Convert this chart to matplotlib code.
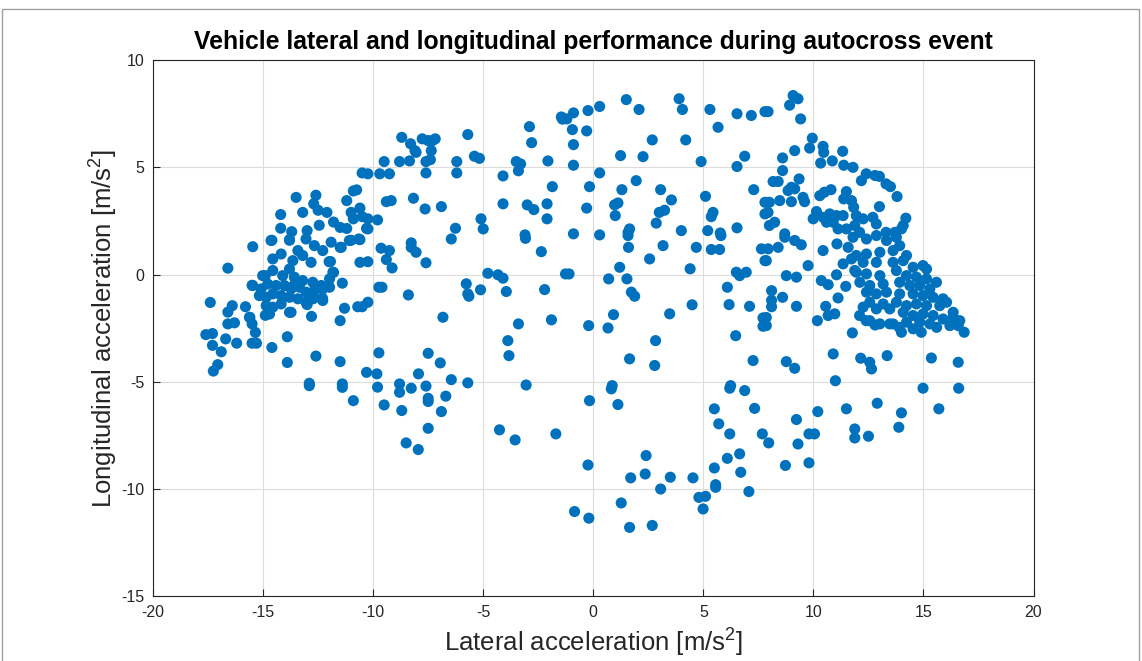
import matplotlib
matplotlib.use("Agg")
import matplotlib.pyplot as plt
from matplotlib.patches import Rectangle

plt.rcParams['font.family'] = ['Liberation Sans', 'DejaVu Sans']
plt.rcParams['mathtext.fontset'] = 'custom'
plt.rcParams['mathtext.rm'] = 'Liberation Sans'
plt.rcParams['mathtext.it'] = 'Liberation Sans'
plt.rcParams['axes.unicode_minus'] = False

# lateral (x) / longitudinal (y) acceleration
left_x = [-17.6, -17.3, -17.4, -17.3, -17.26, -17.06, -16.9, -16.7, -16.6, -16.6, -16.6, -16.4,
          -16.3, -16.2, -15.8, -15.6, -15.5, -15.35, -15.5, -15.3, -15.47, -14.6, -13.9, -13.9,
          -12.6, -11.5, -12.9, -11.4, -14.9, -13.8, -12.8, -11.5, -11.3, -10.7, -10.5, -11.4,
          -10.6, -11.0, -10.6, -11.5, -12.0, -11.8, -12.3, -12.7, -13.0, -13.6, -14.9, -15.5,
          -14.6, -13.8]
left_y = [-2.8, -2.75, -1.3, -3.3, -4.5, -4.2, -3.6, -3.0, -2.3, -1.75, 0.3, -1.45,
          -2.25, -3.2, -1.5, -2.0, -2.3, -2.7, -3.2, -3.2, 1.3, -3.4, -2.9, -4.1,
          -3.8, -4.06, -5.07, -5.1, -1.9, -1.76, -1.95, -2.15, -1.57, -1.5, -1.5, -0.4,
          0.57, 1.6, 1.63, 1.27, 0.6, 0.1, -1.1, -1.1, -1.4, -0.5, -0.05, -0.5,
          1.6, 1.6]

dense_left_x = [-14.64, -13.8, -13.42, -13.05, -12.67, -12.29, -11.91, -11.45, -11.08, -10.65,
                -14.56, -14.18, -13.65, -13.2, -12.82, -11.94,
                -15.02, -14.56, -14.11, -13.8, -13.58, -13.2, -12.74, -12.36, -11.98, -11.83,
                -15.47, -15.09, -14.79, -14.41, -14.03, -13.73, -13.35, -13.05, -12.67, -12.29, -11.98,
                -15.17, -14.86, -14.56, -14.18, -13.8, -13.42, -13.05, -12.74, -12.29,
                -14.86, -14.56, -14.71, -14.18, -13.73, -15.62]
dense_left_y = [1.59, 1.63, 1.12, 1.66, 1.35, 1.12, 1.51, 1.27, 1.59, 1.66,
                0.73, 0.96, 0.65, 0.89, 0.57, 0.61,
                -0.05, 0.19, -0.05, 0.26, -0.12, -0.28, -0.36, -0.51, -0.2, 0.11,
                -0.51, -0.67, -0.44, -0.51, -0.51, -0.67, -0.59, -0.82, -0.75, -0.67, -0.59,
                -0.98, -1.06, -0.9, -0.98, -1.06, -1.13, -1.29, -1.13, -1.21,
                -1.45, -1.52, -1.84, -1.37, -1.76, -1.99]

upper_left_x = [-10.5, -10.9, -10.75, -11.2, -13.5, -12.6, -12.7, -12.5, -14.2, -13.2, -12.1,
                -14.2, -13.7, -13.0, -12.45, -11.8, -11.5, -11.0, -10.9, -10.6, -10.5, -10.3, -11.2]
upper_left_y = [4.74, 3.9, 3.95, 3.45, 3.6, 3.7, 3.3, 3.0, 2.8, 2.9, 2.9,
                2.16, 2.0, 2.05, 2.3, 2.45, 2.2, 2.9, 2.6, 3.1, 2.7, 2.15, 2.15]

mid_left_x = [-1.45, -1.4, -2.9, -2.8, -2.06, -1.86, -2.1, -2.1, -3.1, -4.1, -4.1, -3.5, -3.3,
              -3.4, -3.0, -2.7, -5.7, -5.4, -5.17, -6.2, -6.2, -5.1, -5.0, -6.26, -6.9, -7.64,
              -8.17, -9.4, -9.18, -9.8, -10.24, -10.24, -7.6, -7.6, -7.4, -7.36, -7.3, -7.77,
              -7.5, -7.18, -8.3, -8.1, -8.05, -8.7, -8.35, -8.8, -9.5, -9.7, -9.26, -10.24,
              -6.45, -8.27, -8.27, -8.05, -9.64, -9.26, -9.4, -9.14, -7.6, -10.24, -9.74, -9.6,
              -8.4, -10.24, -5.77, -5.7, -5.65, -5.12, -4.79, -4.33, -4.1, -3.95, -3.08, -2.36,
              -2.21, -1.9, -3.4, -3.88, -3.83, -6.83, -9.74, -7.5, -6.95, -7.94, -10.3, -9.83,
              -1.26]
mid_left_y = [7.35, 7.25, 6.9, 6.15, 5.3, 4.1, 3.3, 2.6, 1.85, 4.6, 3.3, 5.27, 5.16,
              4.84, 3.25, 3.03, 6.53, 5.52, 5.42, 5.27, 4.74, 2.6, 2.13, 2.16, 3.17, 3.06,
              3.56, 3.4, 3.45, 2.55, 2.6, 2.13, 4.74, 5.27, 5.36, 5.78, 6.25, 6.33,
              6.25, 6.33, 6.1, 5.78, 5.7, 6.4, 5.3, 5.27, 5.27, 4.7, 4.7, 4.7,
              1.66, 1.48, 1.27, 1.04, 1.23, 1.12, 0.7, 0.31, 0.55, 0.6, -0.59, -0.59,
              -0.95, -1.29, -0.43, -0.9, -1.01, -0.71, 0.06, -0.01, -0.17, -0.79, 1.69, 1.07,
              -0.7, -2.11, -2.3, -3.08, -3.78, -1.99, -3.65, -3.67, -4.12, -4.63, -4.56, -4.63,
              0.03]

low_left_x = [-12.9, -11.4, -9.8, -8.8, -8.8, -8.27, -7.6, -7.5, -7.5, -6.7, -6.45, -5.7, -3.05,
              -10.9, -9.5, -8.7, -6.9, -7.5, -8.5, -7.95, -4.26, -3.55, -1.7]
low_left_y = [-5.18, -5.26, -5.25, -5.1, -5.49, -5.3, -5.2, -5.77, -5.92, -5.67, -4.9, -5.05, -5.15,
              -5.88, -6.08, -6.34, -6.39, -7.17, -7.85, -8.16, -7.24, -7.71, -7.43]

top_mid_x = [1.5, 3.9, 4.05, 2.08, 0.29, -0.24, -0.9, -1.2, -0.95, -0.3, -0.9, -0.9, 1.24, 2.26,
             2.68, 4.2, 4.9, 5.3, 5.67, 6.53, 7.18, 7.8, 6.88, 6.53, 7.29, 0.29, -0.17, 1.95,
             1.3, 3.06, 3.55, 1.12, 0.97, 1.0, -0.3, 3.0, 3.24, 2.86, 1.65, 1.58, 4.0, 5.1,
             5.44, 5.36, 5.2, 5.77, 6.53, 7.8, 7.8, -0.9, 0.29]
top_mid_y = [8.16, 8.2, 7.7, 7.7, 7.84, 7.65, 7.54, 7.26, 6.76, 6.7, 6.06, 5.1, 5.55, 5.5,
             6.28, 6.28, 5.27, 7.7, 6.87, 7.5, 7.42, 7.6, 5.52, 5.04, 3.96, 4.74, 4.1, 4.38,
             3.96, 3.96, 3.48, 3.34, 3.25, 2.75, 3.1, 2.9, 3.0, 2.4, 2.13, 1.97, 2.05, 3.65,
             2.9, 2.7, 2.05, 1.94, 2.18, 3.37, 2.83, 1.9, 1.85]

center_x = [1.58, 1.6, 3.17, 4.68, 5.36, 5.74, 5.8, 7.64, 7.8, 2.56, 1.2, -1.1, 0.7, 1.53,
            1.73, 1.88, 4.4, 6.5, 6.65, 6.95, 6.09, 6.17, 7.1, 7.71, 7.71, 4.49, 3.47, 0.92,
            -0.21, 0.67, 2.83, 6.47, 7.26, 1.65, 2.79, 0.86, 6.24]
center_y = [1.82, 1.27, 1.35, 1.27, 1.17, 1.17, 1.82, 1.2, 0.65, 0.73, 0.34, 0.03, -0.2, -0.2,
            -0.82, -1.01, 0.27, 0.11, -0.05, 0.11, -0.59, -1.4, -1.48, -2.02, -2.41, -1.41, -1.83, -1.87,
            -2.38, -2.49, -3.08, -2.85, -4.01, -3.93, -4.24, -5.18, -5.18]

low_mid_x = [0.82, -0.17, 1.12, 6.2, 6.88, 5.5, 5.7, 6.2, 7.33, 7.68, 7.97, 9.23, 9.3, 9.8,
             10.05, 10.2, 11.5, 11.88, 11.88, 12.5, 12.9, 14.0, 13.88, 14.98, 16.6, 15.7, 11.0,
             9.8, 8.73, 6.65, 6.09, 5.5, 6.7, 7.07, 5.56, 5.56, 4.8, 5.1, 4.99, 4.53, 3.5,
             3.06, 2.36, 2.4, 1.7, 1.27, 2.68, 1.65, -0.24, -0.85, -0.2]
low_mid_y = [-5.33, -5.88, -6.06, -5.3, -5.41, -6.26, -6.96, -7.43, -6.24, -7.43, -7.85, -6.76, -7.9, -7.43,
             -7.43, -6.39, -6.26, -7.2, -7.62, -7.54, -6.0, -6.45, -7.12, -5.3, -5.3, -6.26, -4.95,
             -8.78, -8.9, -8.36, -8.57, -9.02, -9.22, -10.12, -9.8, -9.92, -10.39, -10.34, -10.93, -9.48, -9.45,
             -10.0, -9.3, -8.44, -9.48, -10.65, -11.7, -11.79, -8.88, -11.05, -11.36]

upper_right_x = [9.08, 9.3, 8.92, 7.94, 9.42, 9.95, 9.83, 10.44, 10.47, 11.33, 9.15, 8.6, 8.6,
                 10.33, 10.86, 11.38, 11.8, 12.4, 12.18, 12.8, 13.0, 13.3, 13.5, 13.8, 13.0,
                 14.2, 14.08, 8.17, 8.4, 9.35, 9.0, 9.15, 8.85, 9.53, 9.6, 9.0, 8.47, 8.0,
                 10.29, 10.5, 10.8, 11.5, 11.38, 11.73, 11.83, 10.14, 9.99, 10.44, 10.74, 11.05,
                 11.35, 10.6, 10.9, 11.12, 11.5, 11.95, 12.26, 11.88, 12.1, 12.7, 12.86, 13.3,
                 13.7, 14.0, 7.94, 8.24, 8.0, 8.7]
upper_right_y = [8.35, 8.2, 7.9, 7.6, 7.26, 6.36, 5.9, 5.98, 5.7, 5.75, 5.78, 5.44, 4.85,
                 5.2, 5.3, 5.1, 5.0, 4.7, 4.38, 4.62, 4.58, 4.23, 4.1, 3.64, 3.17,
                 2.63, 2.29, 4.34, 4.34, 4.46, 4.07, 4.0, 3.92, 3.6, 3.4, 3.4, 3.45, 3.37,
                 3.68, 3.84, 3.96, 3.87, 3.53, 3.45, 3.14, 2.94, 2.6, 2.67, 2.83, 2.75,
                 2.75, 2.44, 2.44, 2.13, 2.13, 2.75, 2.6, 2.29, 1.97, 2.67, 2.36, 1.97,
                 1.97, 2.13, 2.9, 2.44, 2.29, 1.9]

right_x = [8.4, 9.15, 9.45, 8.7, 7.94, 7.86, 9.76, 10.44, 11.07, 11.58, 8.77, 9.23, 10.36,
           10.67, 11.05, 11.47, 11.35, 11.73, 11.88, 8.1, 8.1, 8.1, 8.6, 9.23, 7.86, 7.86,
           11.12, 10.56, 10.97, 10.67, 10.18, 11.77, 12.1, 12.4, 12.8, 13.47, 13.9, 14.0,
           14.53, 14.9, 15.6, 16.2, 16.58, 16.85, 10.9, 12.15, 12.56, 12.64, 13.35, 15.36,
           16.58, 8.77, 9.15]
right_y = [1.27, 1.59, 1.39, 1.74, 1.2, 0.65, 0.42, 1.12, 1.43, 1.27, -0.05, -0.12, -0.28,
           -0.47, -0.01, -0.55, 0.5, 0.73, 0.19, -0.75, -1.2, -1.5, -1.06, -1.48, -2.0, -2.38,
           -1.09, -1.48, -1.83, -1.91, -2.15, -2.72, -1.91, -2.15, -2.35, -2.3, -2.46, -2.69,
           -2.53, -2.69, -2.46, -2.38, -2.38, -2.69, -3.7, -3.9, -4.09, -4.4, -3.78, -3.89,
           -4.09, -4.06, -4.37]

dense_right_x = [11.8, 12.41, 12.86, 13.32, 13.77, 13.92, 11.95, 12.41, 13.02, 13.62, 14.23,
                 12.26, 12.86, 13.62, 14.08, 14.53, 14.98, 15.14,
                 11.95, 12.41, 13.02, 13.77, 14.23, 14.68, 15.14, 15.59,
                 12.11, 12.56, 13.17, 13.92, 14.38, 14.83, 15.29,
                 12.41, 12.86, 13.32, 13.92, 14.53, 14.98, 15.44, 15.89,
                 12.56, 13.17, 13.77, 14.23, 14.68, 15.14, 15.74, 16.05, 16.35,
                 12.26, 12.86, 13.47, 14.08, 14.53, 14.98, 15.44, 15.89, 16.35, 16.65,
                 12.56, 13.02, 13.62, 14.23, 14.83, 15.29]
dense_right_y = [1.74, 1.66, 1.82, 1.59, 1.74, 1.35, 0.89, 0.96, 1.04, 1.12, 0.89,
                 0.57, 0.57, 0.57, 0.65, 0.34, 0.42, 0.26,
                 0.11, 0.03, -0.05, 0.19, -0.05, -0.12, -0.2, -0.36,
                 -0.36, -0.51, -0.44, -0.36, -0.51, -0.51, -0.67,
                 -0.82, -0.9, -0.82, -0.9, -0.9, -0.98, -1.06, -1.13,
                 -1.29, -1.37, -1.29, -1.45, -1.37, -1.45, -1.45, -1.29, -1.76,
                 -1.52, -1.6, -1.6, -1.76, -1.91, -1.84, -1.91, -2.07, -1.99, -2.15,
                 -2.15, -2.3, -2.3, -2.22, -2.22, -2.3]

groups = [(left_x, left_y), (dense_left_x, dense_left_y), (upper_left_x, upper_left_y),
          (mid_left_x, mid_left_y), (low_left_x, low_left_y), (top_mid_x, top_mid_y),
          (center_x, center_y), (low_mid_x, low_mid_y), (upper_right_x, upper_right_y),
          (right_x, right_y), (dense_right_x, dense_right_y)]
lat = [v for gx, gy in groups for v in gx]
lon = [v for gx, gy in groups for v in gy]

fig = plt.figure(figsize=(11.42, 6.61), dpi=100)
ax = fig.add_axes([0.134, 0.098, 0.771, 0.811])

ax.scatter(lat, lon, s=64, color='#0072BD', edgecolors='none', zorder=3)

ax.set_xlim(-20, 20)
ax.set_ylim(-15, 10)
ax.set_xticks(range(-20, 21, 5))
ax.set_yticks(range(-15, 11, 5))
ax.grid(True, color='#dcdcdc', linewidth=0.8)
ax.set_axisbelow(True)
ax.tick_params(direction='in', length=5, width=0.8, labelsize=11.5, colors='#262626', pad=6)
for sp in ax.spines.values():
    sp.set_color('#262626')
    sp.set_linewidth(0.8)

ax.set_title('Vehicle lateral and longitudinal performance during autocross event',
             fontsize=17.8, fontweight='bold', pad=8)
ax.set_xlabel('Lateral acceleration [m/s$^2$]', fontsize=18.5, color='#262626', labelpad=5)
ax.set_ylabel('Longitudinal acceleration [m/s$^2$]', fontsize=18.5, color='#262626', labelpad=1)

fig.patches.append(Rectangle((0.002, -0.01), 0.995, 0.996, transform=fig.transFigure,
                             fill=False, edgecolor='#a0a0a0', linewidth=1.0))

fig.savefig('out.png', dpi=100)
